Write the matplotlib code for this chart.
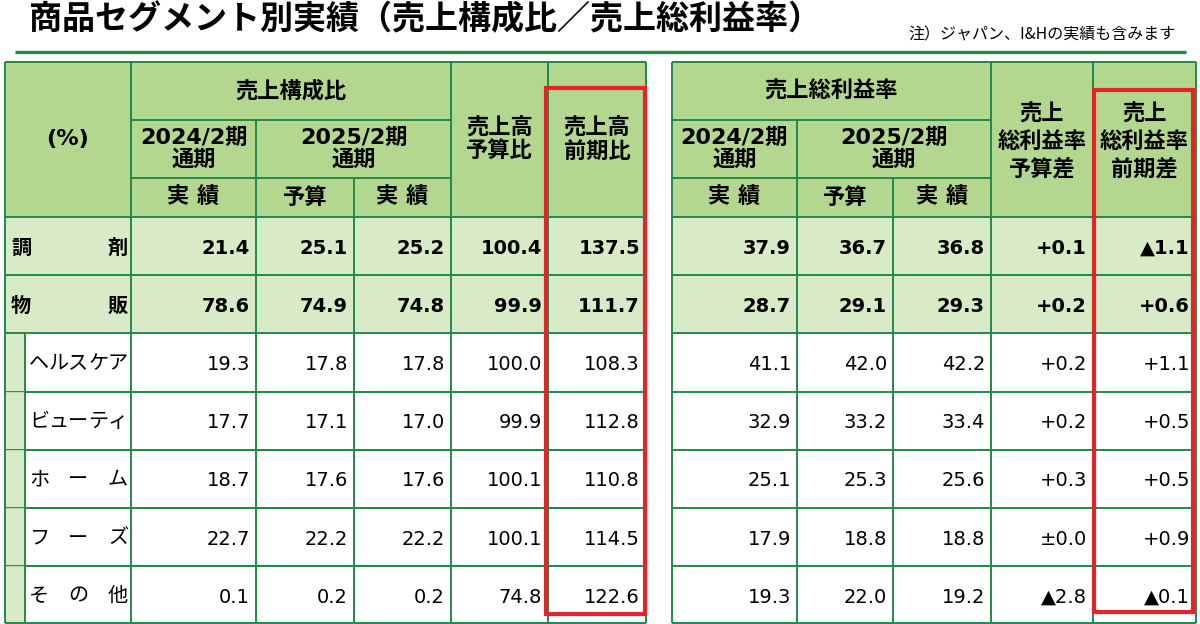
import matplotlib.pyplot as plt
from matplotlib.patches import Rectangle

# data
categories = ["調剤", "物販", "ヘルスケア", "ビューティ", "ホーム", "フーズ", "その他"]
comp_2024 = [21.4, 78.6, 19.3, 17.7, 18.7, 22.7, 0.1]
comp_2025_budget = [25.1, 74.9, 17.8, 17.1, 17.6, 22.2, 0.2]
comp_2025_actual = [25.2, 74.8, 17.8, 17.0, 17.6, 22.2, 0.2]
sales_vs_budget = [100.4, 99.9, 100.0, 99.9, 100.1, 100.1, 74.8]
sales_yoy = [137.5, 111.7, 108.3, 112.8, 110.8, 114.5, 122.6]
gm_2024 = [37.9, 28.7, 41.1, 32.9, 25.1, 17.9, 19.3]
gm_2025_budget = [36.7, 29.1, 42.0, 33.2, 25.3, 18.8, 22.0]
gm_2025_actual = [36.8, 29.3, 42.2, 33.4, 25.6, 18.8, 19.2]
gm_vs_budget = [0.1, 0.2, 0.2, 0.2, 0.3, 0.0, -2.8]
gm_yoy = [-1.1, 0.6, 1.1, 0.5, 0.5, 0.9, -0.1]
bold_rows = [True, True, False, False, False, False, False]

JP = ["Noto Sans CJK JP", "DejaVu Sans"]
NUM = ["DejaVu Sans", "Noto Sans CJK JP"]
HEAD_BG = "#b4d78f"
ROW_BG = "#d9eac6"
LINE = "#1f8a4c"
RED = "#e52329"


def diff_fmt(v):
    if v > 0:
        return "+%.1f" % v
    if v < 0:
        return "▲%.1f" % -v
    return "±0.0"


fig = plt.figure(figsize=(12, 6.24), dpi=100)
ax = fig.add_axes([0, 0, 1, 1])
ax.set_xlim(0, 1200)
ax.set_ylim(624, 0)
ax.axis("off")

# title and note
ax.text(29, 20, "商品セグメント別実績（売上構成比／売上総利益率）", fontsize=23.8,
        fontweight="bold", family=JP, va="center", ha="left")
ax.text(1176, 35, "注）ジャパン、I&Hの実績も含みます", fontsize=11.5,
        family=JP, va="center", ha="right")
ax.plot([15, 1186], [52, 52], color=LINE, lw=2.4, solid_capstyle="butt")

# geometry
top, h1, h2, h3 = 62, 120, 178, 217
row_h = 58.2
row_y = [h3 + i * row_h for i in range(len(categories) + 1)]
left_cols = [5, 131, 256, 354, 451, 548, 646]
right_cols = [672, 797, 893, 991, 1093, 1196]
bottom = 623


def rect(x0, y0, x1, y1, fc):
    ax.add_patch(Rectangle((x0, y0), x1 - x0, y1 - y0, facecolor=fc,
                           edgecolor="none", zorder=1))


def line(xs, ys, color=LINE, lw=1.4, z=3):
    ax.plot(xs, ys, color=color, lw=lw, zorder=z, solid_capstyle="butt")


def head(x0, x1, y0, y1, s, size=16, ls=1.1, dy=0):
    ax.text((x0 + x1) / 2, (y0 + y1) / 2 + dy, s, fontsize=size, fontweight="bold",
            family=NUM, ha="center", va="center", linespacing=ls, zorder=5)


# backgrounds
for cols in (left_cols, right_cols):
    rect(cols[0], top, cols[-1], h3, HEAD_BG)
    rect(cols[0], row_y[0], cols[-1], row_y[2], ROW_BG)
    rect(cols[0], row_y[2], cols[-1], bottom, "white")
rect(left_cols[0], row_y[2], 25, bottom, ROW_BG)

# left table grid
L = left_cols
line([L[0], L[-1]], [top, top])
line([L[1], L[4]], [h1, h1])
line([L[1], L[4]], [h2, h2])
for y in row_y[:-1]:
    line([L[0], L[-1]], [y, y])
for y in row_y[3:-1]:
    line([L[0], 25], [y, y], color="#b9d9a8", lw=0.8)
    line([25, L[-1]], [y, y])
line([L[0], L[-1]], [bottom, bottom])
for x in (L[0], L[1], L[4], L[5], L[6]):
    line([x, x], [top, bottom])
line([L[2], L[2]], [h1, bottom])
line([L[3], L[3]], [h2, bottom])
line([25, 25], [row_y[2], bottom])

# right table grid
R = right_cols
line([R[0], R[-1]], [top, top])
line([R[0], R[3]], [h1, h1])
line([R[0], R[3]], [h2, h2])
for y in row_y[:-1]:
    line([R[0], R[-1]], [y, y])
line([R[0], R[-1]], [bottom, bottom])
for x in (R[0], R[3], R[4], R[5]):
    line([x, x], [top, bottom])
line([R[1], R[1]], [h1, bottom])
line([R[2], R[2]], [h2, bottom])

# left headers
head(L[0], L[1], top, h3, "(%)")
head(L[1], L[4], top, h1, "売上構成比")
head(L[1], L[2], h1, h2, "2024/2期\n通期")
head(L[2], L[4], h1, h2, "2025/2期\n通期")
head(L[1], L[2], h2, h3, "実 績")
head(L[2], L[3], h2, h3, "予算")
head(L[3], L[4], h2, h3, "実 績")
head(L[4], L[5], top, h3, "売上高\n予算比")
head(L[5], L[6], top, h3, "売上高\n前期比")

# right headers
head(R[0], R[3], top, h1, "売上総利益率")
head(R[0], R[1], h1, h2, "2024/2期\n通期")
head(R[1], R[3], h1, h2, "2025/2期\n通期")
head(R[0], R[1], h2, h3, "実 績")
head(R[1], R[2], h2, h3, "予算")
head(R[2], R[3], h2, h3, "実 績")
head(R[3], R[4], top, h3, "売上\n総利益率\n予算差", ls=1.35, dy=2)
head(R[4], R[5], top, h3, "売上\n総利益率\n前期差", ls=1.35, dy=2)

# row labels, characters spread across the cell
for i, name in enumerate(categories):
    yc = (row_y[i] + row_y[i + 1]) / 2 + 1
    x_start = 21 if bold_rows[i] else 39
    x_end = 118
    n = len(name)
    for j, ch in enumerate(name):
        xc = x_start + (x_end - x_start) * j / (n - 1)
        ax.text(xc, yc, ch, fontsize=14.5, family=JP, ha="center", va="center",
                fontweight="bold" if bold_rows[i] else "normal", zorder=5)

# values
left_series = [comp_2024, comp_2025_budget, comp_2025_actual, sales_vs_budget, sales_yoy]
right_series = [gm_2024, gm_2025_budget, gm_2025_actual, gm_vs_budget, gm_yoy]
for i in range(len(categories)):
    yc = (row_y[i] + row_y[i + 1]) / 2 + 2
    w = "bold" if bold_rows[i] else "normal"
    for k, s in enumerate(left_series):
        ax.text(L[k + 2] - 6, yc, "%.1f" % s[i], fontsize=14, family=NUM,
                ha="right", va="center", fontweight=w, zorder=5)
    for k, s in enumerate(right_series):
        txt = "%.1f" % s[i] if k < 3 else diff_fmt(s[i])
        ax.text(R[k + 1] - 6, yc, txt, fontsize=14, family=NUM,
                ha="right", va="center", fontweight=w, zorder=5)

# red highlight boxes
ax.add_patch(Rectangle((546, 88), 99, 526, fill=False, edgecolor=RED, lw=3, zorder=6))
ax.add_patch(Rectangle((1094, 90), 99, 522, fill=False, edgecolor=RED, lw=3, zorder=6))

fig.savefig("out.png", dpi=100)
